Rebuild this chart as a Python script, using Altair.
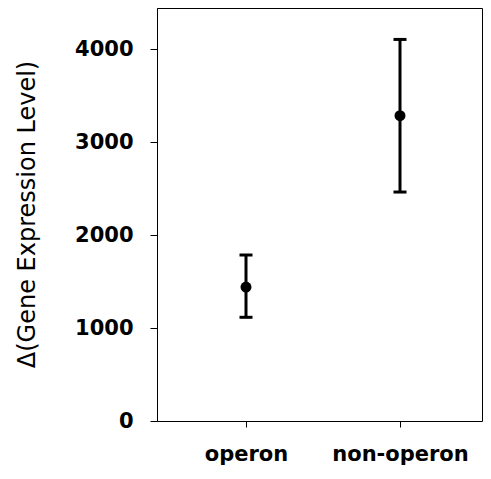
import altair as alt
import pandas as pd

categories = ["operon", "non-operon"]
means = [1440, 3283]
lower = [1115, 2462]
upper = [1785, 4103]

df = pd.DataFrame({"group": categories, "mean": means, "lo": lower, "hi": upper})

FONT = "DejaVu Sans"

x = alt.X("group:N", sort=categories,
          scale=alt.Scale(type="point", range=[89, 243], padding=0),
          axis=alt.Axis(title=None, labelAngle=0, labelFont=FONT, labelFontSize=21,
                        labelFontWeight="bold", labelColor="black", tickColor="black",
                        domainColor="black", tickSize=6, labelPadding=16, domain=True))
yscale = alt.Scale(domain=[0, 4441], nice=False, zero=True)

base = alt.Chart(df)

rule = base.mark_rule(color="black", strokeWidth=3).encode(
    x=x,
    y=alt.Y("lo:Q", scale=yscale,
            axis=alt.Axis(title="Δ(Gene Expression Level)", values=[0, 1000, 2000, 3000, 4000],
                          format="d",
                          grid=False, labelFont=FONT, labelFontSize=21, labelFontWeight="bold",
                          labelColor="black", tickColor="black", domainColor="black",
                          tickSize=7, labelPadding=17, titleFont=FONT, titleFontSize=24,
                          titleFontWeight="normal", titleColor="black", titleAngle=-90,
                          titleX=-130, titleY=206, titleAlign="center", titleBaseline="middle")),
    y2="hi:Q",
)
cap_lo = base.mark_tick(color="black", thickness=3, size=13, orient="horizontal", opacity=1).encode(
    x=x, y=alt.Y("lo:Q", scale=yscale))
cap_hi = base.mark_tick(color="black", thickness=3, size=13, orient="horizontal", opacity=1).encode(
    x=x, y=alt.Y("hi:Q", scale=yscale))
pts = base.mark_point(filled=True, color="black", opacity=1, size=120).encode(
    x=x, y=alt.Y("mean:Q", scale=yscale))

chart = alt.layer(rule, cap_lo, cap_hi, pts).properties(
    width=325, height=413,
    background="white",
    autosize=alt.AutoSizeParams(type="none"),
    padding={"left": 149, "top": 0, "right": 1, "bottom": 45},
).configure_view(stroke="black", strokeWidth=1)

chart.save("out.html", embed_options={"renderer": "svg", "actions": False})
